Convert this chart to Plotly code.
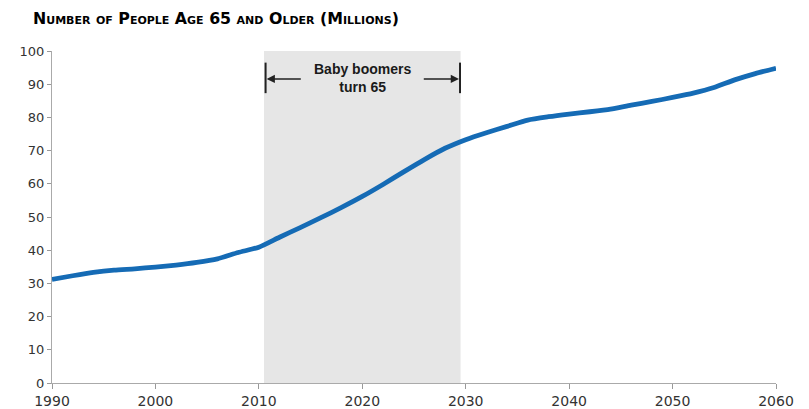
import plotly.graph_objects as go

years = [1990, 1992, 1994, 1996, 1998, 2000, 2002, 2004, 2006, 2008, 2010,
         2012, 2014, 2016, 2018, 2020, 2022, 2024, 2026, 2028, 2030,
         2032, 2034, 2036, 2038, 2040, 2042, 2044, 2046, 2048, 2050,
         2052, 2054, 2056, 2058, 2060]
people_65_plus = [31.2, 32.3, 33.3, 34.0, 34.4, 34.9, 35.5, 36.3, 37.4, 39.3, 40.9,
                  43.9, 46.8, 49.8, 52.9, 56.2, 59.8, 63.6, 67.3, 70.7, 73.3,
                  75.4, 77.3, 79.2, 80.2, 81.0, 81.7, 82.5, 83.7, 84.8, 86.0,
                  87.3, 89.0, 91.3, 93.2, 94.8]
x_ticks = [1990, 2000, 2010, 2020, 2030, 2040, 2050, 2060]
y_ticks = [0, 10, 20, 30, 40, 50, 60, 70, 80, 90, 100]
boomer_start = 2010.5
boomer_end = 2029.5
title_text = "Number of People Age 65 and Older (Millions)"
annot_text = "Baby boomers<br>turn 65"

fig = go.Figure()
fig.add_trace(go.Scatter(
    x=years, y=people_65_plus, mode="lines",
    line=dict(color="#156bb5", width=4.8, shape="spline", smoothing=0.6),
    hoverinfo="skip", showlegend=False,
))

shapes = [
    dict(type="rect", xref="x", yref="y", x0=boomer_start, x1=boomer_end, y0=0, y1=100,
         fillcolor="#e6e6e6", line=dict(width=0), layer="below"),
    dict(type="line", xref="x", yref="y", x0=boomer_start + 0.15, x1=boomer_start + 0.15, y0=87.3, y1=96.5,
         line=dict(color="#222222", width=2)),
    dict(type="line", xref="x", yref="y", x0=boomer_end - 0.05, x1=boomer_end - 0.05, y0=87.3, y1=96.5,
         line=dict(color="#222222", width=2)),
]

annotations = [
    dict(x=(boomer_start + boomer_end) / 2, y=91.9, xref="x", yref="y", text="<b>" + annot_text + "</b>",
         showarrow=False, font=dict(family="Liberation Sans", size=14, color="#1a1a1a"),
         xanchor="center", yanchor="middle"),
    dict(x=boomer_start + 0.25, y=91.6, ax=2014.2, ay=91.6, xref="x", yref="y", axref="x", ayref="y",
         text="", showarrow=True, arrowhead=2, arrowsize=1.1, arrowwidth=1.5, arrowcolor="#222222"),
    dict(x=boomer_end - 0.15, y=91.6, ax=2025.8, ay=91.6, xref="x", yref="y", axref="x", ayref="y",
         text="", showarrow=True, arrowhead=2, arrowsize=1.1, arrowwidth=1.5, arrowcolor="#222222"),
]

fig.update_layout(
    width=809, height=409,
    margin=dict(l=52, r=33, t=51, b=26, autoexpand=False),
    paper_bgcolor="white", plot_bgcolor="white",
    title=dict(text="<b>" + title_text + "</b>", xref="container", yref="container",
               x=33 / 809, xanchor="left", y=1 - 18 / 409, yanchor="middle",
               font=dict(family="DejaVu Sans", size=15.8, color="#000000", variant="small-caps")),
    shapes=shapes, annotations=annotations,
    xaxis=dict(range=[1990, 2060], tickvals=x_ticks, ticks="outside", ticklen=5, tickwidth=1,
               tickcolor="#999999", showline=True, linecolor="#aaaaaa", linewidth=1,
               showgrid=False, zeroline=False, automargin=False,
               tickfont=dict(family="DejaVu Sans", size=14, color="#333333")),
    yaxis=dict(range=[0, 100], tickvals=y_ticks, ticks="outside", ticklen=4, tickwidth=1,
               tickcolor="#999999", showline=True, linecolor="#aaaaaa", linewidth=1,
               showgrid=False, zeroline=False, automargin=False,
               tickfont=dict(family="DejaVu Sans", size=13, color="#333333")),
)

fig.write_html("out.html", config={"displayModeBar": False},
               post_script="document.body.style.margin='0';")
